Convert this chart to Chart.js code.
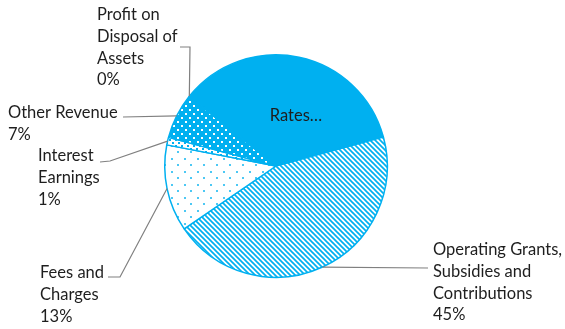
<!DOCTYPE html>
<html>
<head>
<meta charset="utf-8">
<script src="https://cdn.jsdelivr.net/npm/chart.js@4.4.0/dist/chart.umd.min.js"></script>
<style>
  html, body { margin: 0; padding: 0; background: #fff; }
</style>
</head>
<body>
<canvas id="revChart" width="565" height="329"></canvas>
<script>
const categories = ['Rates', 'Operating Grants, Subsidies and Contributions', 'Fees and Charges',
                    'Interest Earnings', 'Other Revenue', 'Profit on Disposal of Assets'];
const shares = [35.0, 44.7, 12.6, 1.1, 6.6, 0.1];

// wrapped label text, one entry per category
const labelLines = [
    ['Rates…'],
    ['Operating Grants,', 'Subsidies and', 'Contributions'],
    ['Fees and', 'Charges'],
    ['Interest', 'Earnings'],
    ['Other Revenue'],
    ['Profit on', 'Disposal of', 'Assets']
];

const BLUE = '#00B0F0';
const FONT = '16.5px Lato';
const LINE_H = 21.7;

// label layout: text left x / first line middle y, leader path after the slice edge point
const labelLayout = [
    { inside: true, cx: 296, cy: 116 },
    { x: 433, y: 250, path: [[428, 268]] },
    { x: 40, y: 273, path: [[120, 277], [108, 277]] },
    { x: 38, y: 156, path: [[110, 161], [100, 162]] },
    { x: 8, y: 113, path: [[123, 117]] },
    { x: 97, y: 15, path: [[190, 47], [180, 47]] }
];

function tile(size, draw) {
    const c = document.createElement('canvas');
    c.width = size; c.height = size;
    const t = c.getContext('2d');
    draw(t, size);
    return c;
}

const canvas = document.getElementById('revChart');
const ctx = canvas.getContext('2d');

const stripes = ctx.createPattern(tile(5, (t, p) => {
    t.fillStyle = '#fff'; t.fillRect(0, 0, p, p);
    t.strokeStyle = BLUE; t.lineWidth = 1.7;
    for (let k = -1; k <= 1; k++) {
        t.beginPath(); t.moveTo(-1, -1 + k * p); t.lineTo(p + 1, p + 1 + k * p); t.stroke();
    }
}), 'repeat');

const sparseDots = ctx.createPattern(tile(13, (t, p) => {
    t.fillStyle = '#fff'; t.fillRect(0, 0, p, p);
    t.fillStyle = '#4cc8f4';
    t.fillRect(2, 2, 2, 2); t.fillRect(8, 8, 2, 2);
}), 'repeat');

const whiteDots = ctx.createPattern(tile(8, (t, p) => {
    t.fillStyle = BLUE; t.fillRect(0, 0, p, p);
    t.fillStyle = '#fff';
    t.fillRect(1, 1, 2, 2); t.fillRect(5, 5, 2, 2);
}), 'repeat');

const denseDots = ctx.createPattern(tile(6, (t, p) => {
    t.fillStyle = '#fff'; t.fillRect(0, 0, p, p);
    t.fillStyle = BLUE;
    t.fillRect(1, 1, 2, 2); t.fillRect(4, 4, 2, 2);
}), 'repeat');

const fills = [BLUE, stripes, sparseDots, denseDots, whiteDots, BLUE];

const labelPlugin = {
    id: 'sliceLabels',
    afterDatasetsDraw(chart) {
        const c = chart.ctx;
        const meta = chart.getDatasetMeta(0);
        const total = shares.reduce((a, b) => a + b, 0);
        c.save();
        c.font = FONT;
        c.textBaseline = 'middle';
        meta.data.forEach((arc, i) => {
            const lay = labelLayout[i];
            c.fillStyle = '#1e1e1e';
            if (lay.inside) {
                c.textAlign = 'center';
                c.fillText(labelLines[i][0], lay.cx, lay.cy);
                return;
            }
            const p = arc.getProps(['x', 'y', 'startAngle', 'endAngle', 'outerRadius'], true);
            const mid = (p.startAngle + p.endAngle) / 2;
            const ex = p.x + Math.cos(mid) * p.outerRadius;
            const ey = p.y + Math.sin(mid) * p.outerRadius;
            c.strokeStyle = '#808080';
            c.lineWidth = 1.2;
            c.beginPath();
            c.moveTo(ex, ey);
            lay.path.forEach(pt => c.lineTo(pt[0], pt[1]));
            c.stroke();

            const lines = labelLines[i].concat([Math.round(shares[i] / total * 100) + '%']);
            c.textAlign = 'left';
            lines.forEach((txt, j) => c.fillText(txt, lay.x, lay.y + j * LINE_H));
        });
        c.restore();
    }
};

new Chart(ctx, {
    type: 'pie',
    data: {
        labels: categories,
        datasets: [{
            data: shares,
            backgroundColor: fills,
            borderColor: BLUE,
            borderWidth: 1.5
        }]
    },
    options: {
        responsive: false,
        animation: false,
        rotation: -51,
        layout: { padding: { left: 164, right: 177, top: 54, bottom: 51 } },
        plugins: {
            legend: { display: false },
            tooltip: { enabled: false }
        }
    },
    plugins: [labelPlugin]
});
</script>
</body>
</html>
